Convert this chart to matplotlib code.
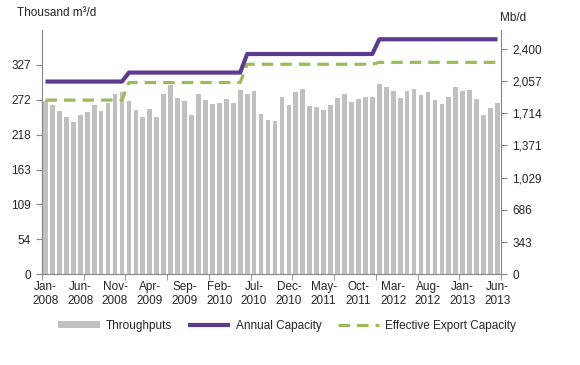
import matplotlib
matplotlib.use("Agg")
import matplotlib.pyplot as plt
import numpy as np

plt.rcParams['font.family'] = ['Liberation Sans', 'DejaVu Sans']

# monthly data, Jan-2008 .. Jun-2013 (thousand m3/d)
throughputs = [271, 265, 255, 245, 238, 248, 254, 264, 255, 268, 281, 284,
               271, 257, 245, 258, 245, 281, 295, 275, 270, 249, 282, 272,
               266, 268, 274, 268, 288, 282, 286, 250, 241, 239, 277, 265,
               285, 290, 263, 262, 256, 264, 275, 281, 269, 274, 277, 277,
               297, 293, 287, 276, 287, 290, 280, 285, 272, 266, 277, 292,
               286, 288, 274, 249, 260, 268]

annual_capacity = [301, 301, 301, 301, 301, 301, 301, 301, 301, 301, 301, 301,
                   315, 315, 315, 315, 315, 315, 315, 315, 315, 315, 315, 315,
                   315, 315, 315, 315, 315, 344, 344, 344, 344, 344, 344, 344,
                   344, 344, 344, 344, 344, 344, 344, 344, 344, 344, 344, 344,
                   367, 367, 367, 367, 367, 367, 367, 367, 367, 367, 367, 367,
                   367, 367, 367, 367, 367, 367]

export_capacity = [272, 272, 272, 272, 272, 272, 272, 272, 272, 272, 272, 272,
                   299.5, 299.5, 299.5, 299.5, 299.5, 299.5, 299.5, 299.5, 299.5, 299.5, 299.5, 299.5,
                   299.5, 299.5, 299.5, 299.5, 299.5, 328, 328, 328, 328, 328, 328, 328,
                   328, 328, 328, 328, 328, 328, 328, 328, 328, 328, 328, 328,
                   331, 331, 331, 331, 331, 331, 331, 331, 331, 331, 331, 331,
                   331, 331, 331, 331, 331, 331]

x_labels = ["Jan-\n2008", "Jun-\n2008", "Nov-\n2008", "Apr-\n2009", "Sep-\n2009",
            "Feb-\n2010", "Jul-\n2010", "Dec-\n2010", "May-\n2011", "Oct-\n2011",
            "Mar-\n2012", "Aug-\n2012", "Jan-\n2013", "Jun-\n2013"]
left_ticks = [0, 54.5, 109, 163.5, 218, 272.5, 327]
left_labels = ["0", "54", "109", "163", "218", "272", "327"]
right_ticks = [0, 343, 686, 1029, 1371, 1714, 2057, 2400]
right_labels = ["0", "343", "686", "1,029", "1,371", "1,714", "2,057", "2,400"]

grey = "#868686"
txt = "#262626"

fig = plt.figure(figsize=(5.8, 3.65), dpi=100)
ax = fig.add_axes([0.0724, 0.2485, 0.7914, 0.6693])
n = len(throughputs)
idx = np.arange(n)

ax.bar(idx, throughputs, width=0.68, color="#c0c0c0", label="Throughputs", zorder=1)
ax.plot(idx, annual_capacity, color="#5c3a8e", lw=3.0, label="Annual Capacity",
        solid_capstyle="butt", zorder=3)
ax.plot(idx, export_capacity, color="#9bbb59", lw=2.3, dashes=(3.6, 2.2),
        label="Effective Export Capacity", zorder=2)

ax.set_xlim(-0.5, n - 0.5)
ax.set_ylim(0, 381.5)
ax.set_yticks(left_ticks)
ax.set_yticklabels(left_labels)
ax.set_xticks(idx[::5])
ax.set_xticklabels(x_labels, linespacing=1.15)
ax.set_xticks(np.arange(-0.5, n, 6), minor=True)
ax.tick_params(axis="x", which="major", length=0, pad=5, labelsize=8.5, labelcolor=txt)
ax.tick_params(axis="x", which="minor", length=4, color=grey, direction="out")
ax.tick_params(axis="y", length=4, color=grey, labelsize=8.5, labelcolor=txt, pad=4)

for s in ["top", "right"]:
    ax.spines[s].set_visible(False)
for s in ["left", "bottom"]:
    ax.spines[s].set_color(grey)

ax2 = ax.twinx()
ax2.set_ylim(0, 2600)
ax2.set_yticks(right_ticks)
ax2.set_yticklabels(right_labels)
ax2.tick_params(axis="y", length=4, color=grey, labelsize=8.5, labelcolor=txt, pad=4)
for s in ["top", "left", "bottom"]:
    ax2.spines[s].set_visible(False)
ax2.spines["right"].set_color(grey)

fig.text(0.029, 0.982, "Thousand m³/d", fontsize=8.5, color=txt, va="top")
fig.text(0.862, 0.968, "Mb/d", fontsize=8.5, color=txt, va="top")

handles, labels = ax.get_legend_handles_labels()
order = [2, 0, 1]
fig.legend([handles[i] for i in order], [labels[i] for i in order],
           loc="center", bbox_to_anchor=(0.495, 0.108), ncol=3, frameon=False,
           fontsize=8.5, handlelength=3.5, handleheight=0.45, handletextpad=0.5,
           columnspacing=1.4, labelcolor=txt)

fig.savefig("out.png", dpi=100)
